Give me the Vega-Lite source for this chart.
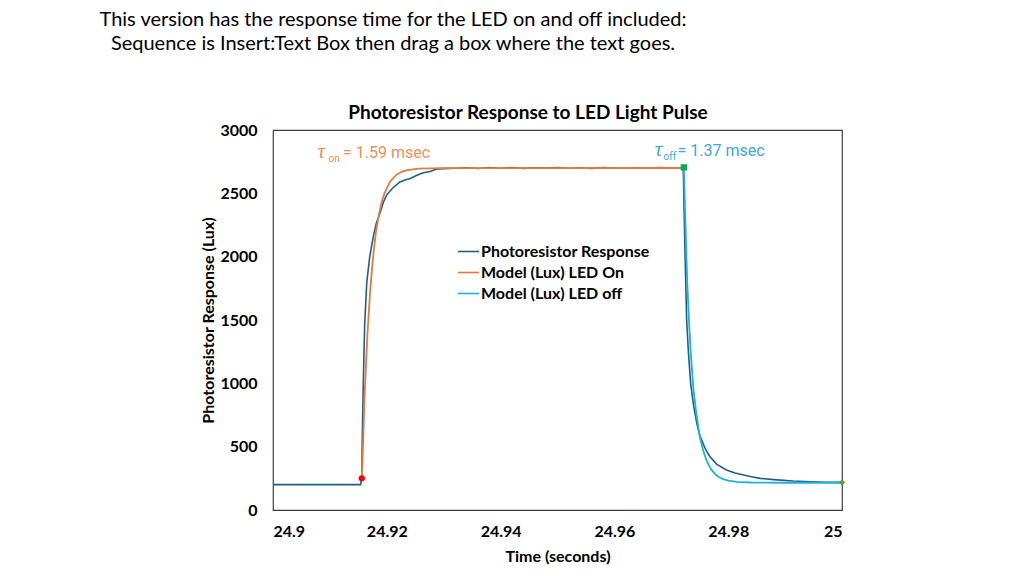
{
  "$schema": "https://vega.github.io/schema/vega-lite/v6.json",
  "width": 569,
  "height": 380,
  "autosize": {"type": "none"},
  "padding": {"left": 273, "top": 130, "right": 182, "bottom": 66},
  "background": "white",
  "title": {
    "text": ["This version has the response time for the LED on and off included:", "Sequence is Insert:Text Box then drag a box where the text goes."],
    "anchor": "start",
    "align": "center",
    "frame": "group",
    "dx": 120,
    "offset": 50,
    "font": "Lato",
    "fontSize": 20,
    "fontWeight": "normal",
    "color": "#000000",
    "lineHeight": 24
  },
  "config": {
    "view": {"stroke": "#404040", "strokeWidth": 1.2},
    "axis": {
      "grid": false,
      "ticks": false,
      "domain": false,
      "labelFont": "Lato",
      "labelFontWeight": "bold",
      "labelFontSize": 16,
      "labelColor": "#000000",
      "titleFont": "Lato",
      "titleFontWeight": "bold",
      "titleFontSize": 16,
      "titleColor": "#000000"
    }
  },
  "datasets": {
    "curves": [
      {"series": "Photoresistor Response", "t": 24.9, "v": 200},
      {"series": "Photoresistor Response", "t": 24.9154, "v": 200},
      {"series": "Photoresistor Response", "t": 24.91559, "v": 255},
      {"series": "Photoresistor Response", "t": 24.9157, "v": 600},
      {"series": "Photoresistor Response", "t": 24.91587, "v": 1000},
      {"series": "Photoresistor Response", "t": 24.9161, "v": 1450},
      {"series": "Photoresistor Response", "t": 24.91647, "v": 1790},
      {"series": "Photoresistor Response", "t": 24.917, "v": 2000},
      {"series": "Photoresistor Response", "t": 24.91763, "v": 2160},
      {"series": "Photoresistor Response", "t": 24.9182, "v": 2270},
      {"series": "Photoresistor Response", "t": 24.9188, "v": 2345},
      {"series": "Photoresistor Response", "t": 24.9194, "v": 2430},
      {"series": "Photoresistor Response", "t": 24.92, "v": 2490},
      {"series": "Photoresistor Response", "t": 24.921, "v": 2540},
      {"series": "Photoresistor Response", "t": 24.9223, "v": 2590},
      {"series": "Photoresistor Response", "t": 24.9232, "v": 2605},
      {"series": "Photoresistor Response", "t": 24.9241, "v": 2618},
      {"series": "Photoresistor Response", "t": 24.9252, "v": 2640},
      {"series": "Photoresistor Response", "t": 24.9264, "v": 2662},
      {"series": "Photoresistor Response", "t": 24.9276, "v": 2672},
      {"series": "Photoresistor Response", "t": 24.9288, "v": 2692},
      {"series": "Photoresistor Response", "t": 24.93, "v": 2695},
      {"series": "Photoresistor Response", "t": 24.932, "v": 2698},
      {"series": "Photoresistor Response", "t": 24.934, "v": 2702},
      {"series": "Photoresistor Response", "t": 24.936, "v": 2696},
      {"series": "Photoresistor Response", "t": 24.938, "v": 2703},
      {"series": "Photoresistor Response", "t": 24.94, "v": 2698},
      {"series": "Photoresistor Response", "t": 24.942, "v": 2704},
      {"series": "Photoresistor Response", "t": 24.944, "v": 2697},
      {"series": "Photoresistor Response", "t": 24.946, "v": 2702},
      {"series": "Photoresistor Response", "t": 24.948, "v": 2699},
      {"series": "Photoresistor Response", "t": 24.95, "v": 2704},
      {"series": "Photoresistor Response", "t": 24.952, "v": 2698},
      {"series": "Photoresistor Response", "t": 24.954, "v": 2702},
      {"series": "Photoresistor Response", "t": 24.956, "v": 2697},
      {"series": "Photoresistor Response", "t": 24.958, "v": 2703},
      {"series": "Photoresistor Response", "t": 24.96, "v": 2700},
      {"series": "Photoresistor Response", "t": 24.962, "v": 2698},
      {"series": "Photoresistor Response", "t": 24.964, "v": 2702},
      {"series": "Photoresistor Response", "t": 24.966, "v": 2699},
      {"series": "Photoresistor Response", "t": 24.968, "v": 2703},
      {"series": "Photoresistor Response", "t": 24.97, "v": 2700},
      {"series": "Photoresistor Response", "t": 24.9721, "v": 2700},
      {"series": "Photoresistor Response", "t": 24.9724, "v": 2050},
      {"series": "Photoresistor Response", "t": 24.9727, "v": 1500},
      {"series": "Photoresistor Response", "t": 24.973, "v": 1250},
      {"series": "Photoresistor Response", "t": 24.9734, "v": 1000},
      {"series": "Photoresistor Response", "t": 24.9739, "v": 830},
      {"series": "Photoresistor Response", "t": 24.9745, "v": 680},
      {"series": "Photoresistor Response", "t": 24.975, "v": 590},
      {"series": "Photoresistor Response", "t": 24.976, "v": 480},
      {"series": "Photoresistor Response", "t": 24.9768, "v": 421},
      {"series": "Photoresistor Response", "t": 24.978, "v": 360},
      {"series": "Photoresistor Response", "t": 24.9797, "v": 316},
      {"series": "Photoresistor Response", "t": 24.9812, "v": 292},
      {"series": "Photoresistor Response", "t": 24.9827, "v": 276},
      {"series": "Photoresistor Response", "t": 24.9841, "v": 262},
      {"series": "Photoresistor Response", "t": 24.9856, "v": 250},
      {"series": "Photoresistor Response", "t": 24.988, "v": 240},
      {"series": "Photoresistor Response", "t": 24.9914, "v": 229},
      {"series": "Photoresistor Response", "t": 24.9945, "v": 223},
      {"series": "Photoresistor Response", "t": 24.9973, "v": 219},
      {"series": "Photoresistor Response", "t": 25.0, "v": 218},
      {"series": "Model (Lux) LED On", "t": 24.9156, "v": 250},
      {"series": "Model (Lux) LED On", "t": 24.9158, "v": 480},
      {"series": "Model (Lux) LED On", "t": 24.9161, "v": 911},
      {"series": "Model (Lux) LED On", "t": 24.9166, "v": 1394},
      {"series": "Model (Lux) LED On", "t": 24.9171, "v": 1746},
      {"series": "Model (Lux) LED On", "t": 24.9176, "v": 2004},
      {"series": "Model (Lux) LED On", "t": 24.9181, "v": 2200},
      {"series": "Model (Lux) LED On", "t": 24.9186, "v": 2328},
      {"series": "Model (Lux) LED On", "t": 24.9191, "v": 2430},
      {"series": "Model (Lux) LED On", "t": 24.9196, "v": 2501},
      {"series": "Model (Lux) LED On", "t": 24.9206, "v": 2594},
      {"series": "Model (Lux) LED On", "t": 24.9216, "v": 2644},
      {"series": "Model (Lux) LED On", "t": 24.9226, "v": 2670},
      {"series": "Model (Lux) LED On", "t": 24.9236, "v": 2684},
      {"series": "Model (Lux) LED On", "t": 24.9256, "v": 2695},
      {"series": "Model (Lux) LED On", "t": 24.9296, "v": 2699},
      {"series": "Model (Lux) LED On", "t": 24.9721, "v": 2700},
      {"series": "Model (Lux) LED off", "t": 24.9722, "v": 2700},
      {"series": "Model (Lux) LED off", "t": 24.9724, "v": 2400},
      {"series": "Model (Lux) LED off", "t": 24.9726, "v": 2080},
      {"series": "Model (Lux) LED off", "t": 24.9728, "v": 1800},
      {"series": "Model (Lux) LED off", "t": 24.9731, "v": 1500},
      {"series": "Model (Lux) LED off", "t": 24.9734, "v": 1250},
      {"series": "Model (Lux) LED off", "t": 24.9739, "v": 950},
      {"series": "Model (Lux) LED off", "t": 24.9744, "v": 760},
      {"series": "Model (Lux) LED off", "t": 24.975, "v": 580},
      {"series": "Model (Lux) LED off", "t": 24.9756, "v": 470},
      {"series": "Model (Lux) LED off", "t": 24.9762, "v": 390},
      {"series": "Model (Lux) LED off", "t": 24.977, "v": 320},
      {"series": "Model (Lux) LED off", "t": 24.978, "v": 270},
      {"series": "Model (Lux) LED off", "t": 24.979, "v": 245},
      {"series": "Model (Lux) LED off", "t": 24.98, "v": 232},
      {"series": "Model (Lux) LED off", "t": 24.9815, "v": 222},
      {"series": "Model (Lux) LED off", "t": 24.984, "v": 217},
      {"series": "Model (Lux) LED off", "t": 24.99, "v": 215},
      {"series": "Model (Lux) LED off", "t": 25.0, "v": 215}
    ],
    "markers": [
      {"marker": "on start", "t": 24.9156, "v": 250},
      {"marker": "off start", "t": 24.9722, "v": 2705},
      {"marker": "off end", "t": 25.0, "v": 218}
    ]
  },
  "encoding": {
    "x": {
      "field": "t", "type": "quantitative",
      "scale": {"domain": [24.9, 25], "nice": false, "zero": false},
      "axis": {"values": [24.9, 24.92, 24.94, 24.96, 24.98, 25], "format": ".2~f", "labelPadding": 13, "title": "Time (seconds)", "titlePadding": 9}
    },
    "y": {
      "field": "v", "type": "quantitative",
      "scale": {"domain": [0, 3000], "nice": false},
      "axis": {"values": [0, 500, 1000, 1500, 2000, 2500, 3000], "format": "d", "labelPadding": 16, "title": "Photoresistor Response (Lux)", "titlePadding": 3}
    }
  },
  "layer": [
    {
      "data": {"name": "curves"},
      "transform": [{"filter": "datum.series === 'Photoresistor Response'"}],
      "mark": {"type": "line", "strokeWidth": 1.6, "clip": true},
      "encoding": {
        "color": {
          "field": "series", "type": "nominal",
          "scale": {"domain": ["Photoresistor Response", "Model (Lux) LED On", "Model (Lux) LED off"], "range": ["#1F5F87", "#E8793E", "#1CB1DF"]},
          "legend": {
            "orient": "none", "legendX": 184, "legendY": 110, "title": null,
            "symbolType": "stroke", "symbolSize": 440, "symbolStrokeWidth": 1.6,
            "labelFont": "Lato", "labelFontWeight": "bold", "labelFontSize": 16, "labelColor": "#000000",
            "labelLimit": 400,
            "rowPadding": 1, "labelOffset": 1, "padding": 0
          }
        }
      }
    },
    {
      "data": {"name": "curves"},
      "transform": [{"filter": "datum.series === 'Model (Lux) LED On'"}],
      "mark": {"type": "line", "strokeWidth": 1.8, "clip": true},
      "encoding": {"color": {"field": "series", "type": "nominal"}}
    },
    {
      "data": {"name": "curves"},
      "transform": [{"filter": "datum.series === 'Model (Lux) LED off'"}],
      "mark": {"type": "line", "strokeWidth": 1.8, "clip": true},
      "encoding": {"color": {"field": "series", "type": "nominal"}}
    },
    {
      "data": {"name": "markers"},
      "mark": {"type": "point", "filled": true, "size": 40, "opacity": 1},
      "encoding": {
        "fill": {"field": "marker", "type": "nominal", "scale": {"domain": ["on start", "off start", "off end"], "range": ["#FF0000", "#00B050", "#4EA72E"]}, "legend": null},
        "shape": {"field": "marker", "type": "nominal", "scale": {"domain": ["on start", "off start", "off end"], "range": ["circle", "square", "diamond"]}, "legend": null}
      }
    },
    {
      "data": {"values": [{"t": 24.9448, "v": 3000, "label": "Photoresistor Response to LED Light Pulse"}]},
      "mark": {"type": "text", "font": "Lato", "fontWeight": "bold", "fontSize": 19, "align": "center", "baseline": "middle", "dy": -17, "color": "#000000"},
      "encoding": {"text": {"field": "label"}}
    },
    {
      "data": {"values": [{"t": 24.9078, "v": 2825, "label": "τ"}]},
      "mark": {"type": "text", "font": "Liberation Serif", "fontStyle": "italic", "fontSize": 21, "align": "left", "baseline": "middle", "color": "#E8905A"},
      "encoding": {"text": {"field": "label"}}
    },
    {
      "data": {"values": [{"t": 24.90975, "v": 2775, "label": "on"}]},
      "mark": {"type": "text", "font": "Roboto", "fontSize": 10, "align": "left", "baseline": "middle", "color": "#E8905A"},
      "encoding": {"text": {"field": "label"}}
    },
    {
      "data": {"values": [{"t": 24.9123, "v": 2818, "label": "= 1.59 msec"}]},
      "mark": {"type": "text", "font": "Roboto", "fontSize": 16, "align": "left", "baseline": "middle", "color": "#E8905A"},
      "encoding": {"text": {"field": "label"}}
    },
    {
      "data": {"values": [{"t": 24.9671, "v": 2840, "label": "τ"}]},
      "mark": {"type": "text", "font": "Liberation Serif", "fontStyle": "italic", "fontSize": 21, "align": "left", "baseline": "middle", "color": "#3AA8D8"},
      "encoding": {"text": {"field": "label"}}
    },
    {
      "data": {"values": [{"t": 24.96865, "v": 2785, "label": "off"}]},
      "mark": {"type": "text", "font": "Roboto", "fontSize": 10, "align": "left", "baseline": "middle", "color": "#3AA8D8"},
      "encoding": {"text": {"field": "label"}}
    },
    {
      "data": {"values": [{"t": 24.9711, "v": 2834, "label": "= 1.37 msec"}]},
      "mark": {"type": "text", "font": "Roboto", "fontSize": 16, "align": "left", "baseline": "middle", "color": "#3AA8D8"},
      "encoding": {"text": {"field": "label"}}
    }
  ],
  "resolve": {"scale": {"color": "shared"}}
}
